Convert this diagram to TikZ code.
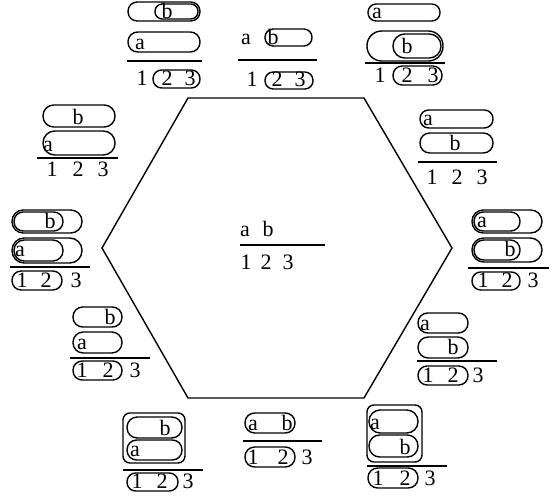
\documentclass[tikz,border=0pt]{standalone}
\usepackage{fontspec}
\setmainfont{Liberation Serif}
\newcommand\pill[4]{\pgfmathsetmacro\pillr{abs(#4-#2)/2-0.3}\draw[pillline, rounded corners=\pillr pt] (#1,#2) rectangle (#3,#4);}
\tikzset{
  lab/.style={anchor=base, inner sep=0pt, font=\fontsize{22}{24}\selectfont},
  pillline/.style={line width=1.4pt},
  bar/.style={line width=1.1pt},
  boxr/.style={line width=1.4pt, rounded corners=7pt},
}
\begin{document}
\begin{tikzpicture}[x=1pt,y=-1pt]
\useasboundingbox (0,0) rectangle (552,502);
% hexagon
\draw[line width=1.4pt] (188,98) -- (364,98) -- (452,248) -- (364,398) -- (188,398) -- (102,248) -- cycle;
% center
\node[lab] (ca) at (245,237) {a};
\node[lab] (cb) at (268,237) {b};
\draw[bar] (240,245) -- (325,245);
\node[lab] (c1) at (246,270) {1};
\node[lab] (c2) at (266,270) {2};
\node[lab] (c3) at (288,270) {3};
% Cluster A (top left)
\pill{128}{2}{200}{21}
\pill{155}{4}{198}{19}
\node[lab] (Ab) at (167,19) {b};
\pill{128}{32}{200}{52}
\node[lab] (Aa) at (140,50) {a};
\draw[bar] (127,61) -- (202,61);
\pill{153}{70}{200}{88}
\node[lab] (A1) at (142,86) {1};
\node[lab] (A2) at (167,86) {2};
\node[lab] (A3) at (190,86) {3};
% Cluster B (top center)
\node[lab] (Ba) at (246,45) {a};
\pill{265}{29}{312}{46}
\node[lab] (Bb) at (273,45) {b};
\draw[bar] (238,60) -- (317,60);
\pill{265}{72}{313}{89}
\node[lab] (B1) at (252,87) {1};
\node[lab] (B2) at (277,87) {2};
\node[lab] (B3) at (300,87) {3};
% Cluster C (top right)
\pill{368}{4}{440}{21}
\node[lab] (Ca) at (377,19) {a};
\pill{367}{31}{443}{61}
\pill{393}{34}{441}{58}
\node[lab] (Cb) at (407,54) {b};
\draw[bar] (365,63) -- (445,63);
\pill{393}{66}{442}{85}
\node[lab] (C1) at (380,83) {1};
\node[lab] (C2) at (407,83) {2};
\node[lab] (C3) at (433,83) {3};
% Cluster D (left)
\pill{43}{105}{115}{127}
\node[lab] (Db) at (78,125) {b};
\pill{43}{131}{115}{155}
\node[lab] (Da) at (48,152) {a};
\draw[bar] (37,158) -- (118,158);
\node[lab] (D1) at (52,177) {1};
\node[lab] (D2) at (78,177) {2};
\node[lab] (D3) at (103,177) {3};
% Cluster E (right)
\pill{420}{110}{493}{128}
\node[lab] (Ea) at (428,126) {a};
\pill{420}{133}{493}{153}
\node[lab] (Eb) at (455,151) {b};
\draw[bar] (418,162) -- (497,162);
\node[lab] (E1) at (432,185) {1};
\node[lab] (E2) at (457,185) {2};
\node[lab] (E3) at (482,185) {3};
% Cluster F (left middle)
\pill{12}{210}{82}{233}
\pill{14}{212}{63}{231}
\node[lab] (Fb) at (50,229) {b};
\pill{12}{238}{82}{263}
\pill{14}{240}{63}{261}
\node[lab] (Fa) at (20,257) {a};
\draw[bar] (10,267) -- (90,267);
\pill{12}{271}{62}{290}
\node[lab] (F1) at (22,288) {1};
\node[lab] (F2) at (46,288) {2};
\node[lab] (F3) at (76,288) {3};
% Cluster G (right middle)
\pill{472}{210}{542}{233}
\pill{474}{212}{520}{231}
\node[lab] (Ga) at (482,228) {a};
\pill{472}{238}{542}{262}
\pill{474}{240}{520}{260}
\node[lab] (Gb) at (510,257) {b};
\draw[bar] (468,268) -- (549,268);
\pill{472}{272}{520}{290}
\node[lab] (G1) at (483,288) {1};
\node[lab] (G2) at (507,288) {2};
\node[lab] (G3) at (533,288) {3};
% Cluster H (left lower)
\pill{73}{307}{122}{327}
\node[lab] (Hb) at (110,325) {b};
\pill{73}{332}{122}{353}
\node[lab] (Ha) at (82,350) {a};
\draw[bar] (70,358) -- (150,358);
\pill{73}{361}{122}{380}
\node[lab] (H1) at (82,378) {1};
\node[lab] (H2) at (108,378) {2};
\node[lab] (H3) at (135,378) {3};
% Cluster I (right lower)
\pill{418}{313}{468}{333}
\node[lab] (Ia) at (425,331) {a};
\pill{418}{337}{468}{358}
\node[lab] (Ib) at (453,355) {b};
\draw[bar] (417,361) -- (497,361);
\pill{418}{366}{468}{385}
\node[lab] (I1) at (428,383) {1};
\node[lab] (I2) at (453,383) {2};
\node[lab] (I3) at (478,383) {3};
% Cluster J (bottom left)
\draw[boxr] (123,413) rectangle (185,463);
\pill{127}{417}{182}{438}
\node[lab] (Jb) at (165,436) {b};
\pill{127}{440}{182}{460}
\node[lab] (Ja) at (135,457) {a};
\draw[bar] (123,470) -- (203,470);
\pill{127}{473}{178}{491}
\node[lab] (J1) at (137,489) {1};
\node[lab] (J2) at (162,489) {2};
\node[lab] (J3) at (188,489) {3};
% Cluster K (bottom center)
\pill{245}{413}{295}{433}
\node[lab] (Ka) at (253,431) {a};
\node[lab] (Kb) at (287,431) {b};
\draw[bar] (243,441) -- (322,441);
\pill{245}{447}{295}{467}
\node[lab] (K1) at (253,465) {1};
\node[lab] (K2) at (283,465) {2};
\node[lab] (K3) at (307,465) {3};
% Cluster L (bottom right)
\draw[boxr] (367,405) rectangle (422,462);
\pill{369}{410}{418}{433}
\node[lab] (La) at (375,430) {a};
\pill{369}{435}{418}{457}
\node[lab] (Lb) at (405,455) {b};
\draw[bar] (367,466) -- (447,466);
\pill{368}{468}{418}{488}
\node[lab] (L1) at (378,486) {1};
\node[lab] (L2) at (405,486) {2};
\node[lab] (L3) at (430,486) {3};
\end{tikzpicture}
\end{document}
